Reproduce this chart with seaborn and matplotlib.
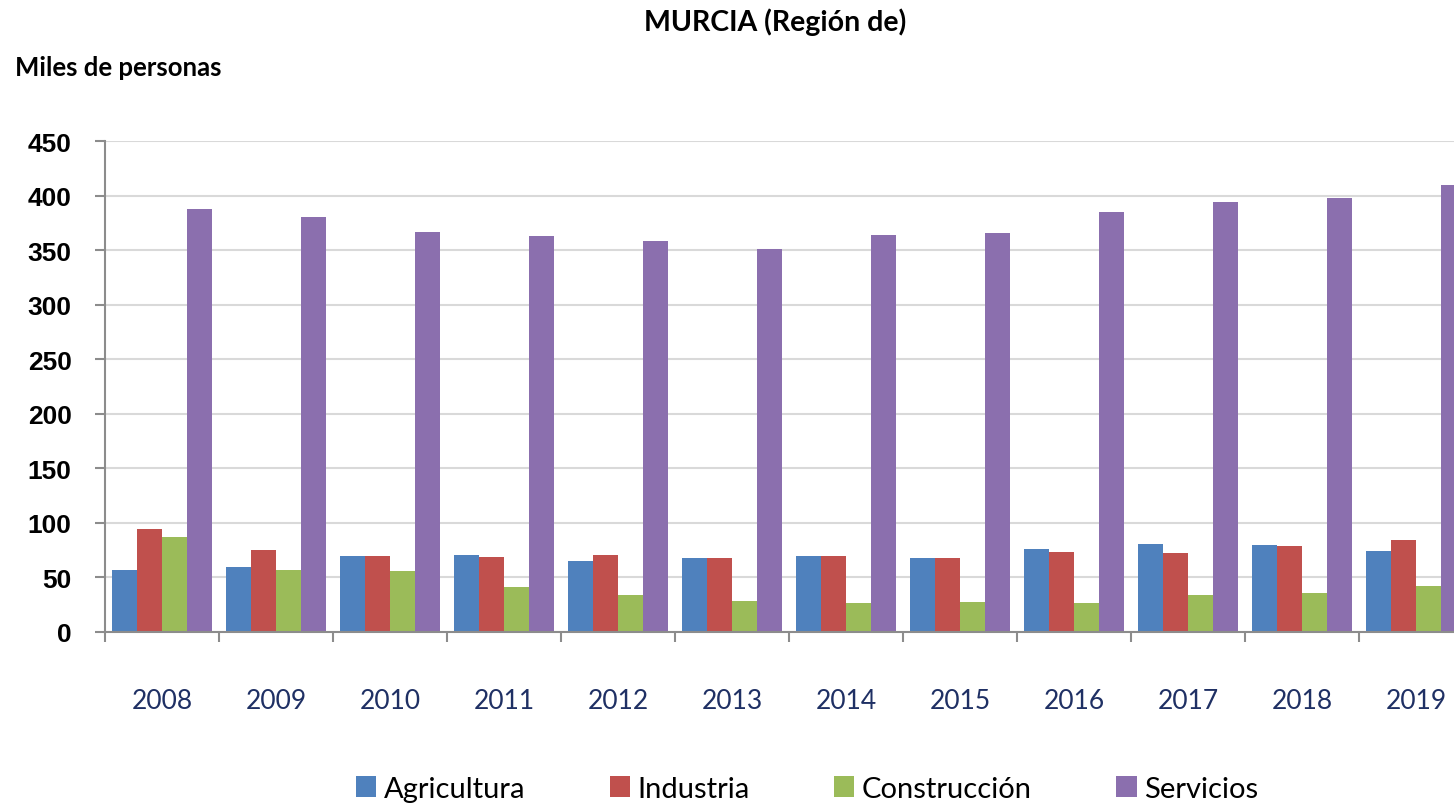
import numpy as np
import pandas as pd
import matplotlib
matplotlib.use("Agg")
import matplotlib.pyplot as plt
import seaborn as sns
from matplotlib.ticker import MultipleLocator, FixedLocator

years = ["2008", "2009", "2010", "2011", "2012", "2013", "2014", "2015",
         "2016", "2017", "2018", "2019"]
agricultura = [57, 60, 70, 70.5, 65.5, 68, 69.5, 67.5, 76.5, 80.5, 79.5, 74.5]
industria = [94.5, 75, 69.5, 69, 70.5, 68, 69.5, 67.5, 73, 72, 79, 84.5]
construccion = [87, 57, 55.5, 41.5, 33.5, 28, 27, 27.5, 26.8, 33.5, 35.5, 42.5]
servicios = [388, 380.5, 367, 363, 358.5, 351, 363.5, 366, 385, 394.5, 397.5, 410]
series_names = ["Agricultura", "Industria", "Construcción", "Servicios"]
colors = ["#4F81BD", "#C0504D", "#9BBB59", "#8B6FAE"]

df = pd.DataFrame({
    "Año": years * 4,
    "Sector": sum([[n] * len(years) for n in series_names], []),
    "Valor": agricultura + industria + construccion + servicios,
})

sns.set_theme(style="white")
plt.rcParams["font.family"] = ["Liberation Sans", "DejaVu Sans"]
plt.rcParams["text.color"] = "black"

fig = plt.figure(figsize=(14.54, 8.04), dpi=100)
ax = fig.add_axes([105 / 1454, (804 - 633) / 804, 1368 / 1454, (633 - 142) / 804])

sns.barplot(data=df, x="Año", y="Valor", hue="Sector", hue_order=series_names,
            palette=colors, width=0.88, gap=0, saturation=1, ax=ax,
            linewidth=0, errorbar=None, legend=True)

ax.set_ylim(0, 450)
ax.set_xlim(-0.5, len(years) - 0.5)
ax.yaxis.set_major_locator(MultipleLocator(50))
ax.grid(axis="y", color="#D9D9D9", linewidth=1.5)
ax.set_axisbelow(True)
for s in ["top", "right"]:
    ax.spines[s].set_visible(False)
for s in ["left", "bottom"]:
    ax.spines[s].set_color("#8C8C8C")
    ax.spines[s].set_linewidth(1.5)
ax.set_xlabel("")
ax.set_ylabel("")

ax.tick_params(axis="y", which="major", left=True, length=7, width=1.5,
               color="#8C8C8C", pad=17, labelsize=19, labelcolor="black")
for t in ax.get_yticklabels():
    t.set_fontweight("bold")

ax.xaxis.set_minor_locator(FixedLocator(np.arange(-0.5, len(years), 1.0)))
ax.tick_params(axis="x", which="minor", bottom=True, length=7, width=1.5, color="#8C8C8C")
ax.tick_params(axis="x", which="major", bottom=False, length=0, pad=40, labelsize=19,
               labelcolor="#1F3064")
for t in ax.get_xticklabels():
    t.set_fontfamily(["Lato", "DejaVu Sans"])

leg = ax.get_legend()
handles, labels = ax.get_legend_handles_labels()
leg.remove()
fig.legend(handles, labels, loc="center", bbox_to_anchor=(0.555, 0.018), ncol=4,
           frameon=False, handlelength=0.7, handleheight=0.7, handletextpad=0.25,
           columnspacing=2.9, labelcolor="black",
           prop={"family": ["Lato", "DejaVu Sans"], "size": 21})

fig.text(0.533, 0.973, "MURCIA (Región de)", ha="center", va="center", color="black",
         fontsize=20.5, fontweight="bold", family=["Lato", "DejaVu Sans"])
fig.text(0.010, 0.915, "Miles de personas", ha="left", va="center", color="black",
         fontsize=18.5, fontweight="bold", family=["Lato", "DejaVu Sans"])

fig.savefig("out.png", dpi=100)
